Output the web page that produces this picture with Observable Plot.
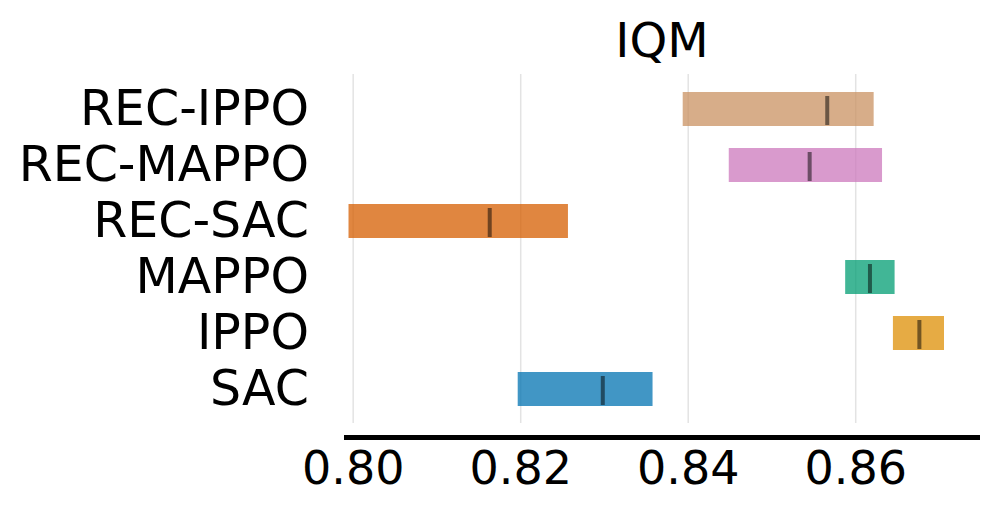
<!DOCTYPE html>
<html>
<head>
<meta charset="utf-8">
<script src="https://cdn.jsdelivr.net/npm/d3@7"></script>
<script src="https://cdn.jsdelivr.net/npm/@observablehq/plot@0.6"></script>
<style>
  html, body { margin: 0; padding: 0; background: #fff; }
  #chart svg { display: block; }
</style>
</head>
<body>
<div id="chart"></div>
<script>
const algorithms = ["REC-IPPO", "REC-MAPPO", "REC-SAC", "MAPPO", "IPPO", "SAC"];
const lower  = [0.8394, 0.8449, 0.7995, 0.8588, 0.8645, 0.8197];
const upper  = [0.8622, 0.8632, 0.8257, 0.8647, 0.8706, 0.8358];
const median = [0.8566, 0.8545, 0.8163, 0.8617, 0.8676, 0.8298];
const xTicks = [0.80, 0.82, 0.84, 0.86];
const title = "IQM";

const palette = ["#CA9161", "#CC78BC", "#D55E00", "#029E73", "#DE8F05", "#0173B2"];

const rows = algorithms.map((a, i) => ({algo: a, lo: lower[i], hi: upper[i], med: median[i]}));

const font = "DejaVu Sans, sans-serif";

const chart = Plot.plot({
  width: 995,
  height: 515,
  marginLeft: 346,
  marginRight: 18,
  marginTop: 74,
  marginBottom: 78,
  style: {fontFamily: font, fontSize: "48px", color: "#000", background: "#fff"},
  x: {domain: [0.7992, 0.87454], ticks: xTicks, tickFormat: d3.format(".2f")},
  y: {domain: algorithms, range: [74, 423], paddingInner: 0.4, paddingOuter: 0.28},
  color: {domain: algorithms, range: palette},
  marks: [
    Plot.gridX(xTicks, {stroke: "#dcdcdc", strokeOpacity: 0.8, strokeWidth: 1.5, insetBottom: 14}),
    Plot.barX(rows, {x1: "lo", x2: "hi", y: "algo", fill: "algo", fillOpacity: 0.75}),
    Plot.tickX(rows, {x: "med", y: "algo", stroke: "#000", strokeOpacity: 0.5, strokeWidth: 4, insetTop: 4, insetBottom: 1}),
    Plot.axisX(xTicks, {tickSize: 0, tickPadding: 14, tickFormat: d3.format(".2f"), fontSize: 46, label: null}),
    Plot.axisY({tickSize: 0, tickPadding: 37.5, fontSize: 49, label: null}),
    Plot.frame({anchor: "bottom", stroke: "#000", strokeWidth: 5}),
    Plot.text([title], {frameAnchor: "top", lineAnchor: "bottom", dy: -18, fontSize: 48, fill: "#000"})
  ]
});

document.getElementById("chart").appendChild(chart);
</script>
</body>
</html>
